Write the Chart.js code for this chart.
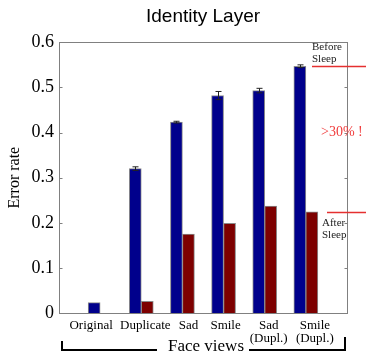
<!DOCTYPE html>
<html>
<head>
<meta charset="utf-8">
<script src="https://cdn.jsdelivr.net/npm/chart.js@4/dist/chart.umd.min.js"></script>
<style>
  html, body { margin: 0; padding: 0; background: #fff; }
  #wrap { width: 366px; height: 356px; }
</style>
</head>
<body>
<div id="wrap"><canvas id="chart"></canvas></div>
<script>
var categories = ['Original', 'Duplicate', 'Sad', 'Smile', ['Sad', '(Dupl.)'], ['Smile', '(Dupl.)']];
var beforeSleep = [0.023, 0.320, 0.423, 0.482, 0.493, 0.547];
var beforeErr = [0, 0.004, 0.002, 0.009, 0.005, 0.003];
var afterSleep = [null, 0.026, 0.175, 0.199, 0.237, 0.224];
var yTicks = [0, 0.1, 0.2, 0.3, 0.4, 0.5, 0.6];

// empty slots at both ends so the axis runs 0..7 like the original plot
function pad(arr, v) { return [v].concat(arr, [v]); }

// the original labels are hand-placed, not exactly under the bar pairs
var labelShift = [0, -9, 4, 6, 2, 4, 9, 0];

var serif = 'Liberation Serif';

var overlay = {
  id: 'overlay',
  afterDatasetsDraw: function(chart) {
    var ctx = chart.ctx, a = chart.chartArea, y = chart.scales.y;
    ctx.save();

    // frame + small inner ticks
    ctx.strokeStyle = '#808080';
    ctx.lineWidth = 1;
    var L = Math.round(a.left) + 0.5, R = Math.round(a.right) + 0.5;
    var T = Math.round(a.top) + 0.5, B = Math.round(a.bottom) + 0.5;
    ctx.strokeRect(L, T, R - L, B - T);
    ctx.beginPath();
    yTicks.forEach(function(v) {
      var py = Math.round(y.getPixelForValue(v)) + 0.5;
      ctx.moveTo(L, py); ctx.lineTo(L + 3, py);
      ctx.moveTo(R, py); ctx.lineTo(R - 3, py);
    });
    ctx.stroke();

    // error bars on the blue bars
    ctx.strokeStyle = '#222';
    ctx.beginPath();
    chart.getDatasetMeta(0).data.forEach(function(bar, i) {
      var err = beforeErr[i - 1];
      if (!err) return;
      var v = beforeSleep[i - 1];
      var x = Math.round(bar.x) + 0.5;
      var y0 = y.getPixelForValue(v - err), y1 = y.getPixelForValue(v + err);
      ctx.moveTo(x, y0); ctx.lineTo(x, y1);
      ctx.moveTo(x - 3, y0); ctx.lineTo(x + 3, y0);
      ctx.moveTo(x - 3, y1); ctx.lineTo(x + 3, y1);
    });
    ctx.stroke();

    // before / after sleep markers
    var yb = Math.round(y.getPixelForValue(beforeSleep[5])) + 0.5;
    var ya = Math.round(y.getPixelForValue(afterSleep[5])) + 0.5;
    ctx.strokeStyle = '#e53030';
    ctx.lineWidth = 1.5;
    ctx.beginPath();
    ctx.moveTo(312, yb); ctx.lineTo(chart.width, yb);
    ctx.moveTo(327, ya); ctx.lineTo(chart.width, ya);
    ctx.stroke();

    ctx.textAlign = 'left';
    ctx.textBaseline = 'middle';
    ctx.font = '11px "' + serif + '"';
    ctx.fillStyle = '#222';
    ctx.fillText('Before', 312, yb - 19);
    ctx.fillText('Sleep', 312, yb - 7);
    ctx.fillText('After', 322, ya + 11);
    ctx.fillText('Sleep', 322, ya + 23);
    ctx.fillStyle = '#f03c3c';
    ctx.font = '14px "' + serif + '"';
    ctx.fillText('>30% !', 321, yb + 66);

    // bracket under the category labels
    ctx.strokeStyle = '#000';
    ctx.lineWidth = 2;
    ctx.beginPath();
    ctx.moveTo(62, 341); ctx.lineTo(62, 350); ctx.lineTo(157, 350);
    ctx.moveTo(249, 350); ctx.lineTo(345, 350); ctx.lineTo(345, 337);
    ctx.stroke();
    ctx.fillStyle = '#000';
    ctx.textAlign = 'center';
    ctx.font = '17px "' + serif + '"';
    ctx.fillText('Face views', 206, 347);

    ctx.restore();
  }
};

new Chart(document.getElementById('chart'), {
  type: 'bar',
  data: {
    labels: pad(categories, ''),
    datasets: [
      {
        label: 'Before Sleep',
        data: pad(beforeSleep, null),
        backgroundColor: '#00008c',
        borderColor: '#8a8a8a',
        borderWidth: 1,
        barThickness: 12
      },
      {
        label: 'After Sleep',
        data: pad(afterSleep, null),
        backgroundColor: '#7d0000',
        borderColor: '#8a8a8a',
        borderWidth: 1,
        barThickness: 12
      }
    ]
  },
  options: {
    responsive: true,
    maintainAspectRatio: false,
    animation: false,
    layout: { padding: { left: 0, right: 19, top: 0, bottom: 0 } },
    plugins: {
      legend: { display: false },
      tooltip: { enabled: false },
      title: {
        display: true,
        text: 'Identity Layer',
        fullSize: false,
        color: '#000',
        font: { family: 'Liberation Sans', size: 19, weight: 'normal' },
        padding: { top: 5, bottom: 14.5 }
      }
    },
    scales: {
      x: {
        offset: false,
        grid: { display: false, drawTicks: false },
        border: { display: false },
        ticks: {
          color: '#000',
          font: { family: serif, size: 13, lineHeight: 1.0 },
          padding: 6,
          autoSkip: false,
          maxRotation: 0
        },
        afterFit: function(s) { s.height = 43; },
        afterUpdate: function(s) {
          var base = Object.getPrototypeOf(s).getPixelForTick;
          s.getPixelForTick = function(i) { return base.call(s, i) + (labelShift[i] || 0); };
        }
      },
      y: {
        min: 0,
        max: 0.6,
        grid: { display: false, drawTicks: false },
        border: { display: false },
        ticks: {
          color: '#000',
          font: { family: serif, size: 18 },
          padding: 5
        },
        title: {
          display: true,
          text: 'Error rate',
          color: '#000',
          font: { family: serif, size: 16 },
          padding: { top: 5, bottom: 0 }
        },
        afterBuildTicks: function(s) { s.ticks = yTicks.map(function(v) { return { value: v }; }); },
        afterFit: function(s) { s.width = 59; }
      }
    }
  },
  plugins: [overlay]
});
</script>
</body>
</html>
